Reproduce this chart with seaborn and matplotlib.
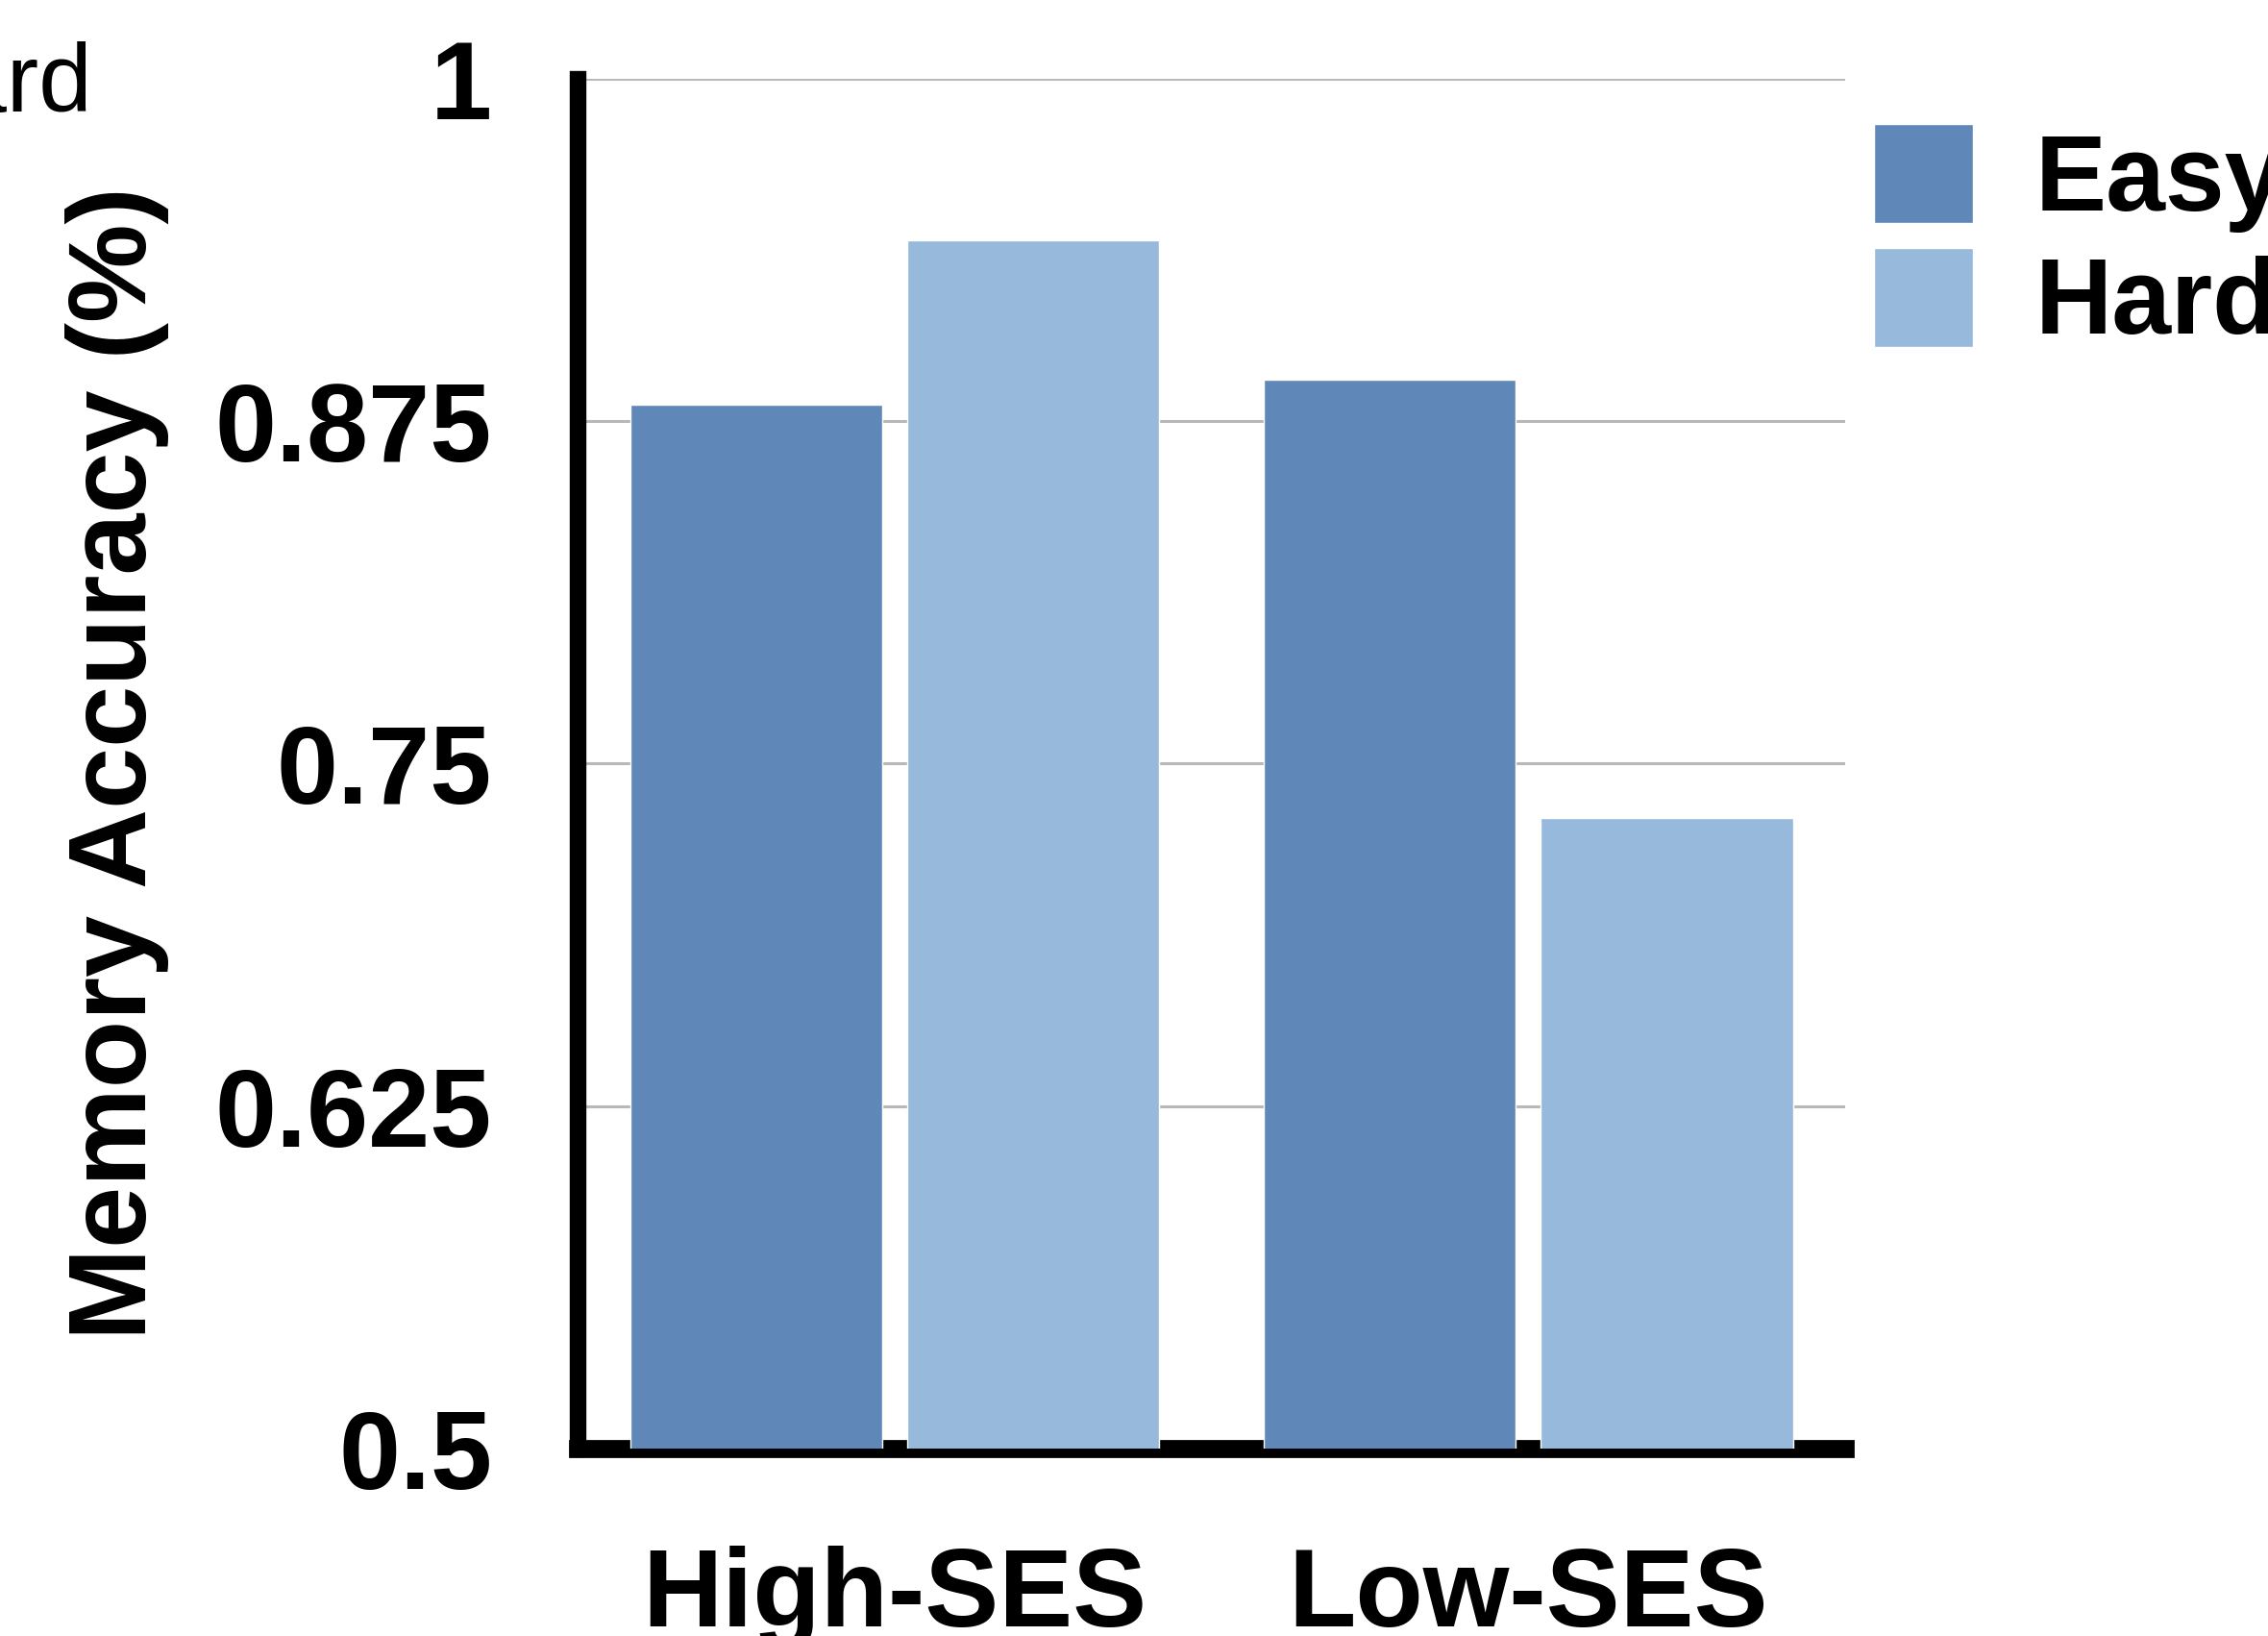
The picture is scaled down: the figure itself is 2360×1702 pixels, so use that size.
import pandas as pd
import matplotlib
matplotlib.use("Agg")
import matplotlib.pyplot as plt
import seaborn as sns

groups = ["High-SES", "Low-SES"]
difficulty = ["Easy", "Hard"]
easy_acc = [0.881, 0.890]
hard_acc = [0.941, 0.730]
y_ticks = [0.5, 0.625, 0.75, 0.875, 1.0]
y_tick_labels = ["0.5", "0.625", "0.75", "0.875", "1"]
colors = ["#5f88b9", "#97b9db"]

df = pd.DataFrame({
    "group": groups * 2,
    "difficulty": [difficulty[0]] * 2 + [difficulty[1]] * 2,
    "acc": easy_acc + hard_acc,
})

sns.set_style("white")
plt.rcParams["font.family"] = ["Liberation Sans", "DejaVu Sans"]
plt.rcParams["text.color"] = "black"
plt.rcParams["axes.labelcolor"] = "black"
plt.rcParams["xtick.color"] = "black"
plt.rcParams["ytick.color"] = "black"

fig = plt.figure(figsize=(23.6, 17.02), dpi=100)
ax = fig.add_axes([0.2547, 0.11457, 0.5589, 0.83754])

sns.barplot(data=df, x="group", y="acc", hue="difficulty", order=groups,
            hue_order=difficulty, palette=colors, saturation=1,
            width=0.874, gap=0.09, errorbar=None, ax=ax, zorder=3)

ax.set_ylim(0.5, 1.0)
ax.set_xlim(-0.5, 1.5)
ax.set_yticks(y_ticks)
ax.set_yticklabels(y_tick_labels)
ax.yaxis.grid(True, color="#b8b8b8", linewidth=2.2)
ax.set_axisbelow(True)
ax.set_xlabel("")
ax.set_ylabel("Memory Accuracy (%)", fontsize=83, fontweight="bold")
ax.yaxis.set_label_coords(-0.322, 0.5)

for lab in ax.get_yticklabels() + ax.get_xticklabels():
    lab.set_fontsize(83)
    lab.set_fontweight("bold")
ax.tick_params(axis="y", length=0, pad=64)
ax.tick_params(axis="x", length=0, pad=73)

for side in ["top", "right"]:
    ax.spines[side].set_visible(False)
ax.spines["left"].set_linewidth(12.5)
ax.spines["bottom"].set_linewidth(13.5)
for side in ["left", "bottom"]:
    ax.spines[side].set_color("black")
    ax.spines[side].set_capstyle("projecting")

handles, labels = ax.get_legend_handles_labels()
ax.legend(handles, labels, loc="upper left",
          bbox_to_anchor=(1950 / 2360, 1 - 129 / 1702),
          bbox_transform=fig.transFigure, frameon=False, borderpad=0,
          borderaxespad=0, handlelength=0.93, handleheight=1.054,
          handletextpad=0.58, labelspacing=0.146,
          prop={"size": 80, "weight": "bold"})

# fragment of a neighbouring panel's legend, cut at the left edge
fig.text(97 / 2360, 1 - 116 / 1702, "Hard", fontsize=72, ha="right",
         va="baseline")

fig.savefig("out.png", dpi=100)
